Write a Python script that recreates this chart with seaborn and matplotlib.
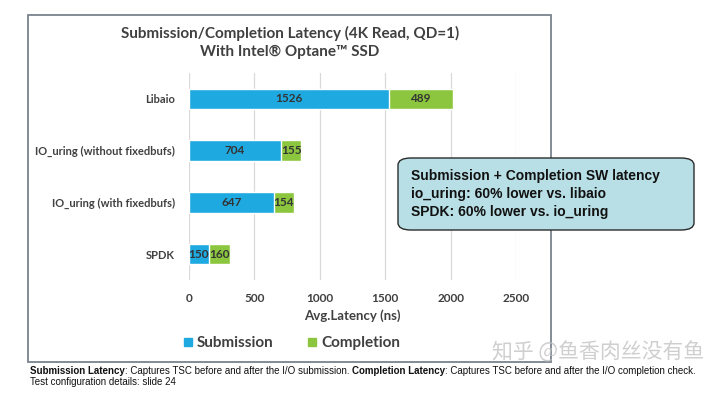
import matplotlib
matplotlib.use("Agg")
import matplotlib.pyplot as plt
import seaborn as sns
import pandas as pd
from matplotlib.patches import Rectangle, FancyBboxPatch
from matplotlib.lines import Line2D

categories = ["Libaio", "IO_uring (without fixedbufs)", "IO_uring (with fixedbufs)", "SPDK"]
submission = [1526, 704, 647, 150]
completion = [489, 155, 154, 160]
xticks = [0, 500, 1000, 1500, 2000, 2500]

sns.set_theme(style="white")
plt.rcParams['font.family'] = ['Lato', 'DejaVu Sans']

C_SUB = "#1fa9e1"
C_COMP = "#8cc63f"
TXT = "#404040"

df = pd.DataFrame({"cat": categories, "sub": submission, "comp": completion})
df["total"] = df["sub"] + df["comp"]

W, H = 720, 396
fig = plt.figure(figsize=(7.2, 3.96), dpi=100)
ax = fig.add_axes([189 / W, 1 - 280 / H, (516 - 189) / W, (280 - 73) / H])

sns.barplot(data=df, x="total", y="cat", color=C_COMP, width=0.4, ax=ax, saturation=1, orient="h")
sns.barplot(data=df, x="sub", y="cat", color=C_SUB, width=0.4, ax=ax, saturation=1, orient="h")

ax.set_xlim(0, 2500)
ax.set_ylim(3.5, -0.5)
ax.set_xticks(xticks)
ax.set_xticklabels([str(t) for t in xticks], fontsize=8.5, fontweight="bold", color=TXT)
ax.set_yticklabels(categories, fontsize=8, fontweight="bold", color=TXT)
ax.tick_params(axis="x", length=0, pad=9)
ax.tick_params(axis="y", length=0, pad=10)
ax.set_ylabel("")
ax.set_xlabel("Avg.Latency (ns)", fontsize=9.5, fontweight="bold", color=TXT, labelpad=4)
ax.grid(axis="x", color="#d9d9d9", lw=0.9)
ax.set_axisbelow(True)
for s in ax.spines.values():
    s.set_visible(False)

for i, (s, c) in enumerate(zip(submission, completion)):
    ax.text(s / 2, i, str(s), ha="center", va="center", fontsize=8.5, fontweight="bold", color="#333333")
    ax.text(s + c / 2, i, str(c), ha="center", va="center", fontsize=8.5, fontweight="bold", color="#333333")

# outer frame
fig.patches.append(Rectangle((28 / W, 1 - 362 / H), (551 - 28) / W, (362 - 15) / H,
                             transform=fig.transFigure, fill=False, edgecolor="#7a848c", lw=1.3))

fig.text(290 / W, 1 - 33 / H, "Submission/Completion Latency (4K Read, QD=1)", ha="center", va="center",
         fontsize=11, fontweight="bold", color=TXT)
fig.text(290 / W, 1 - 52 / H, "With Intel® Optane™ SSD", ha="center", va="center",
         fontsize=11, fontweight="bold", color=TXT)

handles = [Line2D([], [], marker="s", color="none", markerfacecolor=C_SUB, markeredgecolor=C_SUB, markersize=6),
           Line2D([], [], marker="s", color="none", markerfacecolor=C_COMP, markeredgecolor=C_COMP, markersize=6)]
leg = fig.legend(handles, ["Submission", "Completion"], loc="center", bbox_to_anchor=(290 / W, 1 - 343 / H),
                 ncol=2, frameon=False, handletextpad=0.1, columnspacing=2.0, handlelength=1.0,
                 prop={"weight": "bold", "size": 11})
for t in leg.get_texts():
    t.set_color(TXT)

# annotation box
fig.patches.append(FancyBboxPatch((398 / W, 1 - 230 / H), (694 - 398) / W, (230 - 158) / H,
                                  boxstyle="round,pad=0,rounding_size=0.018", transform=fig.transFigure,
                                  facecolor="#b8dfe5", edgecolor="#2b2b2b", lw=1.0))
for k, line in enumerate(["Submission + Completion SW latency", "io_uring: 60% lower vs. libaio",
                          "SPDK: 60% lower vs. io_uring"]):
    fig.text(411 / W, 1 - (176 + 18 * k) / H, line, ha="left", va="center", fontsize=10,
             fontweight="bold", color="#111111", family=["Liberation Sans", "DejaVu Sans"])

# footer (pieces laid out one after another)
FOOT = ["Liberation Sans", "DejaVu Sans"]
FS = 7.0
pieces = [("Submission Latency", "bold"),
          (": Captures TSC before and after the I/O submission. ", "normal"),
          ("Completion Latency", "bold"),
          (": Captures TSC before and after the I/O completion check.", "normal")]
renderer = fig.canvas.get_renderer()
x0 = 30.0
for txt, wt in pieces:
    t = fig.text(x0 / W, 1 - 371 / H, txt, ha="left", va="center", fontsize=FS, fontweight=wt,
                 color="#111111", family=FOOT)
    bb = t.get_window_extent(renderer=renderer)
    x0 += bb.width
fig.text(30 / W, 1 - 382 / H, "Test configuration details: slide 24", ha="left", va="center", fontsize=FS,
         color="#111111", family=FOOT)

# watermark
fig.text(598 / W, 1 - 352 / H, "知乎 @鱼香肉丝没有鱼", ha="center", va="center", fontsize=15,
         color="#bfbfbf", alpha=0.75, family=["Noto Sans CJK SC", "DejaVu Sans"])

fig.savefig("out.png", dpi=100)
